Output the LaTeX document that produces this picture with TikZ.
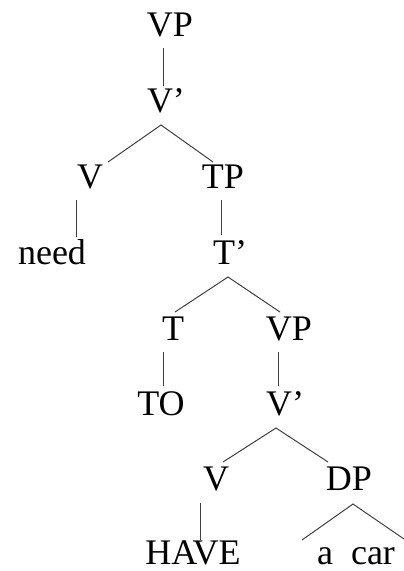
\documentclass[tikz,border=0pt]{standalone}
\usepackage{fontspec}
\setmainfont{Liberation Serif}
\begin{document}
\begin{tikzpicture}[x=1pt,y=-1pt,
  lab/.style={anchor=base,inner sep=0pt,font=\fontsize{36}{40}\selectfont,text=black},
  edge/.style={draw=black!75,line width=1pt}]
\useasboundingbox (0,0) rectangle (404,571);
% labels (baselines)
\node[lab] (vp1) at (170,36) {VP};
\node[lab] (v1b) at (166,112) {V’};
\node[lab] (v1) at (90,188) {V};
\node[lab] (tp) at (223,188) {TP};
\node[lab] (need) at (52,264) {need};
\node[lab] (tb) at (230,264) {T’};
\node[lab] (t) at (173,340) {T};
\node[lab] (vp2) at (289,340) {VP};
\node[lab] (to) at (161,415) {TO};
\node[lab] (v2b) at (285,415) {V’};
\node[lab] (v2) at (216,490) {V};
\node[lab] (dp) at (349,490) {DP};
\node[lab] (have) at (193,564) {HAVE};
\node[lab] (acar) at (356,564) {a\ \ car};
% connector ends
\coordinate (vp1-s) at (163,48);
\coordinate (v1b-n) at (163,86);
\coordinate (v1b-s) at (161,125);
\coordinate (v1-n) at (108,162);
\coordinate (tp-n) at (213,162);
\coordinate (v1-s) at (76,200);
\coordinate (need-n) at (76,237);
\coordinate (tp-s) at (221,200);
\coordinate (tb-n) at (221,235);
\coordinate (tb-s) at (228,277);
\coordinate (t-n) at (175,312);
\coordinate (vp2-n) at (280,312);
\coordinate (t-s) at (163,352);
\coordinate (to-n) at (163,386);
\coordinate (vp2-s) at (278,352);
\coordinate (v2b-n) at (278,386);
\coordinate (v2b-s) at (276,428);
\coordinate (v2-n) at (223,462);
\coordinate (dp-n) at (328,462);
\coordinate (v2-s) at (200,503);
\coordinate (have-n) at (200,540);
\coordinate (dp-s) at (353,504);
\coordinate (acar-l) at (302,540);
\coordinate (acar-r) at (404,539);
% connectors
\draw[edge] (vp1-s) -- (v1b-n);
\draw[edge] (v1-n) -- (v1b-s) -- (tp-n);
\draw[edge] (v1-s) -- (need-n);
\draw[edge] (tp-s) -- (tb-n);
\draw[edge] (t-n) -- (tb-s) -- (vp2-n);
\draw[edge] (t-s) -- (to-n);
\draw[edge] (vp2-s) -- (v2b-n);
\draw[edge] (v2-n) -- (v2b-s) -- (dp-n);
\draw[edge] (v2-s) -- (have-n);
\draw[edge] (acar-l) -- (dp-s) -- (acar-r);
\end{tikzpicture}
\end{document}
